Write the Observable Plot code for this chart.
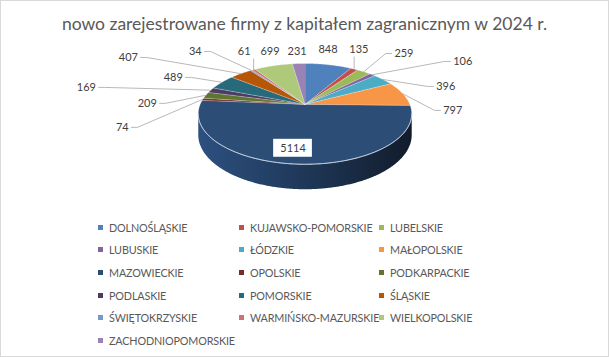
<!DOCTYPE html>
<html><head><meta charset="utf-8">
<script src="https://cdn.jsdelivr.net/npm/d3@7"></script>
<script src="https://cdn.jsdelivr.net/npm/@observablehq/plot@0.6"></script>
<style>
html,body{margin:0;padding:0;background:#fff;}
#wrap{position:relative;width:609px;height:357px;box-sizing:border-box;border:1px solid #d9d9d9;background:#fff;overflow:hidden;font-family:Lato,"Open Sans",sans-serif;}
#title{position:absolute;left:-1px;top:12px;width:609px;text-align:center;font-size:17.5px;color:#595959;white-space:nowrap;}
#chart{position:absolute;left:-1px;top:38px;}
#legend{position:absolute;left:97px;top:215px;display:grid;grid-template-columns:141px 140px 170px;grid-auto-rows:22.6px;font-size:10.8px;letter-spacing:-0.15px;color:#595959;}
.item{display:flex;align-items:center;white-space:nowrap;}
.sw{width:5px;height:5px;margin-right:6px;flex:none;}
</style></head><body>
<div id="wrap"><div id="title"></div><div id="chart"></div><div id="legend"></div></div>
<script>
// ---- data ----
const chartTitle = "nowo zarejestrowane firmy z kapitałem zagranicznym w 2024 r.";
const regions = ["DOLNOŚLĄSKIE","KUJAWSKO-POMORSKIE","LUBELSKIE","LUBUSKIE","ŁÓDZKIE","MAŁOPOLSKIE","MAZOWIECKIE","OPOLSKIE","PODKARPACKIE","PODLASKIE","POMORSKIE","ŚLĄSKIE","ŚWIĘTOKRZYSKIE","WARMIŃSKO-MAZURSKIE","WIELKOPOLSKIE","ZACHODNIOPOMORSKIE"];
const firms = [848,135,259,106,396,797,5114,74,209,169,489,407,34,61,699,231];

// ---- styles / layout ----
const palette = ["#4F81BD","#C0504D","#9BBB59","#8064A2","#4BACC6","#F79646","#2C4D75","#772C2A","#5F7530","#4D3B62","#276A7C","#B65708","#729ACA","#CD7371","#AFC97A","#9983B5"];
// data-label placement (Excel "best fit"): angle nudge (deg) from slice middle, distance in pie radii
const labelNudge  = [-4.2, -8.4, 2.1, 13.1, 19.1, 18.1, 4.2, -21.3, -10.4, -8.5, -6.0, -16.1, -7.7, 6.4, 3.8, 0.2];
const labelRadius = [1.46, 1.576, 1.755, 2.092, 1.497, 1.383, 0.778, 1.659, 1.511, 2.263, 1.534, 2.373, 1.899, 1.551, 1.432, 1.371];

const W = 609, H = 176, R = 105, AX = 305, AY = 65;
const TILT = 48.7 / 105, K = 0.188, DEPTH = 20.3 / 105;

function proj(a, r) {
  const u = r * Math.sin(a), v = -r * Math.cos(a), d = 1 - K * v;
  return [u / d, v * TILT / d, d];
}
const arcs = d3.pie().sort(null).value(d => d)(firms);
const step = Math.PI / 360;
function arcPts(a0, a1, r) {
  const n = Math.max(2, Math.ceil(Math.abs(a1 - a0) / step));
  return d3.range(n + 1).map(i => proj(a0 + (a1 - a0) * i / n, r));
}

// top faces
const faces = arcs.flatMap((d, i) =>
  [proj(d.startAngle, 0), ...arcPts(d.startAngle, d.endAngle, 1)].map(([x, y]) => ({id: i, x, y, c: palette[i]})));

// visible side wall
const aMin = Math.acos(-K), aMax = 2 * Math.PI - aMin;
const walls = arcs.flatMap((d, i) => {
  const s = Math.max(d.startAngle, aMin), e = Math.min(d.endAngle, aMax);
  if (s >= e) return [];
  const top = arcPts(s, e, 1);
  const bot = arcPts(e, s, 1).map(([x, y, dd]) => [x, y + DEPTH / dd]);
  return [...top, ...bot].map(([x, y]) => ({id: i, x, y}));
});
const rim = arcPts(aMin, aMax, 1).map(([x, y]) => ({x, y}));

// labels
const labelRows = arcs.map((d, i) => {
  const mid = (d.startAngle + d.endAngle) / 2;
  const a = mid + labelNudge[i] * Math.PI / 180;
  const [x, y] = proj(a, labelRadius[i]);
  const text = String(firms[i]);
  return {i, mid, x, y, text, w: text.length * 6.2 + 2, h: 13, inside: labelRadius[i] < 1};
});
const leaders = labelRows.filter(l => !l.inside).flatMap(l => {
  const [rx, ry] = proj(l.mid, 1);
  const px = rx * R, py = ry * R, cx = l.x * R, cy = l.y * R;
  if (Math.hypot(px - cx, py - cy) < 17) return [];
  const left = cx - l.w / 2, right = cx + l.w / 2;
  let pts;
  if (px >= left - 6 && px <= right + 6) pts = [[px, py], [px, cy + l.h / 2 + 1]];
  else if (left > px) pts = [[px, py], [left - 8, cy], [left - 2, cy]];
  else pts = [[px, py], [right + 8, cy], [right + 2, cy]];
  return pts.map(([x, y]) => ({id: l.i, x: x / R, y: y / R}));
});
const insideBox = labelRows.filter(l => l.inside).map(l => ({
  x1: l.x - (l.w / 2 + 6) / R, x2: l.x + (l.w / 2 + 6) / R, y1: l.y - 9 / R, y2: l.y + 9 / R}));

const font = "Lato, 'Open Sans', sans-serif";
const plot = Plot.plot({
  width: W, height: H, margin: 0,
  x: {domain: [-AX / R, (W - AX) / R], range: [0, W], axis: null},
  y: {domain: [-AY / R, (H - AY) / R], range: [0, H], axis: null},
  color: {type: "identity"},
  style: {background: "transparent", overflow: "visible"},
  marks: [
    Plot.line(walls, {x: "x", y: "y", z: "id", fill: "url(#sideGrad)", stroke: "none"}),
    Plot.line(faces, {x: "x", y: "y", z: "id", fill: "c", stroke: "#ffffff", strokeWidth: 0.5, strokeOpacity: 0.6}),
    Plot.line(rim, {x: "x", y: "y", stroke: "#c9d5e6", strokeWidth: 0.9}),
    Plot.line(leaders, {x: "x", y: "y", z: "id", stroke: "#a6a6a6", strokeWidth: 0.8}),
    Plot.rect(insideBox, {x1: "x1", x2: "x2", y1: "y1", y2: "y2", fill: "white"}),
    Plot.text(labelRows, {x: "x", y: "y", text: "text", fontSize: 11, fill: "#404040", fontFamily: font})
  ]
});
const defs = d3.select(plot).insert("defs", ":first-child");
const g = defs.append("linearGradient").attr("id", "sideGrad").attr("x1", 0).attr("x2", 1).attr("y1", 0).attr("y2", 0);
g.append("stop").attr("offset", "0%").attr("stop-color", "#2d5080");
g.append("stop").attr("offset", "45%").attr("stop-color", "#203a5c");
g.append("stop").attr("offset", "100%").attr("stop-color", "#111c2b");
document.getElementById("chart").append(plot);
document.getElementById("title").textContent = chartTitle;
const lg = document.getElementById("legend");
regions.forEach((r, i) => {
  const it = document.createElement("div"); it.className = "item";
  const sw = document.createElement("span"); sw.className = "sw"; sw.style.background = palette[i];
  const t = document.createElement("span"); t.textContent = r;
  it.append(sw, t); lg.append(it);
});
</script>
</body></html>
